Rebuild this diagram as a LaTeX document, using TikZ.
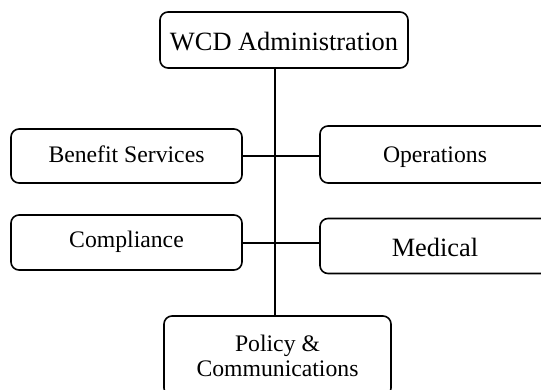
\documentclass[tikz,border=0pt]{standalone}
\usepackage{fontspec}
\setmainfont{Liberation Serif}
\begin{document}
\begin{tikzpicture}[x=1pt, y=-1pt,
  unit/.style={shape=rectangle, rounded corners=8pt, draw=black, line width=1.6pt, inner sep=0pt, align=center, font=\fontsize{23.7}{25}\selectfont},
  big/.style={font=\fontsize{26.4}{29}\selectfont},
  link/.style={-, line width=1.6pt, draw=black}]
\useasboundingbox (0,0) rectangle (541,389);
\node[unit, big, minimum width=248pt, text height=38pt, text depth=18pt] (admin) at (284,40) {WCD Administration};
\node[unit, minimum width=231pt, text height=33pt, text depth=21pt] (benefit) at (126.5,156) {Benefit Services};
\node[unit, minimum width=230pt, text height=36pt, text depth=21pt] (ops) at (435,154.5) {Operations};
\node[unit, minimum width=231pt, text height=32pt, text depth=23pt] (compl) at (126.5,242.5) {Compliance};
\node[unit, big, minimum width=230pt, text height=37.5pt, text depth=17.5pt] (med) at (435,246) {Medical};
\node[unit, minimum width=227pt, minimum height=80pt] (policy) at (277.5,356) {Policy \&\\Communications};
\coordinate (trunk) at (275,0);
\path [link] (admin.south -| trunk) edge (policy.north -| trunk);
\path [link] (benefit.east) edge (benefit.east -| ops.west);
\path [link] ([yshift=-0.5pt]compl.east) edge ([yshift=-0.5pt]compl.east -| med.west);
\end{tikzpicture}
\end{document}
